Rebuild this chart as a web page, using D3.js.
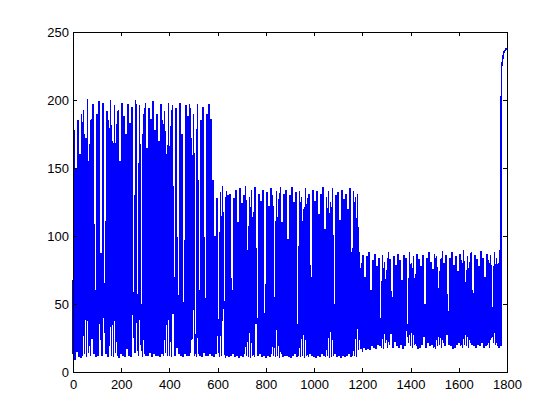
<!DOCTYPE html>
<html>
<meta charset="utf-8">
<head>
<title>Signal trace</title>
<style>
body { margin: 0; background: #fff; }
.axis text { font-family: "Liberation Sans", Arial, sans-serif; font-size: 13px; fill: #000; }
.axis path, .axis line { stroke: #000; shape-rendering: crispEdges; }
.trace { fill: none; stroke: #0000ff; stroke-width: 1.6px; stroke-linejoin: miter; stroke-miterlimit: 1; shape-rendering: crispEdges; }
</style>
</head>
<body>
<script src="https://cdn.jsdelivr.net/npm/d3@7/dist/d3.min.js"></script>
<script>

// sample spacing along x (each low is followed by a high half a step later)
var sampleStep = 8;

// peaks of the trace (three plateaus)
var highs = [
  178, 150, 185, 160, 190, 193, 172, 201, 168, 186,
  197, 60, 190, 199, 30, 198, 45, 192, 185, 200,
  170, 196, 182, 193, 155, 198, 188, 175, 197, 183,
  195, 40, 200, 25, 196, 50, 190, 198, 165, 194,
  186, 199, 178, 190, 170, 197, 185, 192, 160, 198,
  181, 196, 70, 194, 35, 198, 175, 45, 196, 188,
  197, 172, 190, 28, 197, 60, 185, 195, 40, 190,
  197, 186,
  141, 100, 128, 20, 132, 137, 45, 133, 130, 131,
  60, 128, 134, 110, 135, 124, 130, 137, 90, 129,
  134, 118, 136, 40, 131, 126, 134, 30, 132, 122,
  135, 130, 55, 133, 127, 136, 110, 131, 134, 98,
  130, 136, 125, 132, 35, 133, 129, 120, 135, 128,
  131, 70, 134, 126, 133, 116, 131, 136, 105, 129,
  133, 125, 135, 50, 130, 132, 112, 134, 127, 131,
  120, 135, 88, 133, 129, 131,
  88, 80, 86, 70, 85, 88, 60, 82, 87, 78,
  84, 40, 86, 81, 75, 88, 83, 55, 85, 79,
  87, 82, 68, 86, 84, 35, 88, 80, 85, 72,
  87, 83, 78, 86, 50, 84, 88, 81, 76, 87,
  85, 62, 83, 89, 80, 86, 45, 84, 88, 79,
  85, 74, 87, 82, 90, 66, 85, 81, 88, 58,
  86, 83, 78, 89, 84, 70, 87, 82, 86, 48,
  88, 84, 80, 90
];

// troughs of the trace
var lows = [
  13, 9, 15, 11, 10, 12, 13, 11, 14, 12,
  24, 13, 11, 12, 38, 12, 40, 13, 11, 19,
  12, 11, 14, 12, 10, 13, 12, 11, 17, 12,
  11, 45, 14, 60, 12, 20, 11, 13, 12, 12,
  14, 11, 13, 12, 12, 11, 13, 12, 14, 12,
  12, 11, 43, 12, 18, 13, 12, 11, 13, 12,
  12, 14, 24, 12, 11, 13, 12, 11, 14, 12,
  12, 13,
  12, 11, 13, 40, 11, 12, 55, 10, 12, 11,
  12, 13, 11, 12, 10, 12, 11, 13, 12, 11,
  10, 12, 11, 35, 12, 13, 11, 12, 10, 12,
  11, 13, 12, 11, 12, 10, 13, 11, 12, 12,
  11, 10, 12, 13, 11, 12, 11, 12, 10, 12,
  11, 13, 12, 11, 10, 12, 11, 13, 12, 11,
  12, 10, 11, 12, 13, 11, 12, 10, 12, 11,
  12, 13, 11, 12, 12, 11,
  16, 17, 15, 18, 16, 17, 16, 19, 18, 17,
  20, 19, 18, 17, 21, 18, 20, 28, 18, 22,
  19, 18, 20, 17, 19, 30, 21, 19, 18, 20,
  19, 17, 18, 20, 26, 18, 21, 19, 20, 18,
  17, 19, 20, 18, 21, 19, 27, 20, 19, 17,
  18, 20, 21, 19, 18, 20, 19, 18, 21, 20,
  19, 18, 20, 19, 21, 18, 19, 20, 18, 25,
  21, 20, 19, 18
];

// the final climb at the right edge
var tailX = [1774, 1776, 1777, 1784, 1787, 1790, 1798];
var tailY = [19, 185, 224, 232, 235, 236, 238];

var xTicks = [0, 200, 400, 600, 800, 1000, 1200, 1400, 1600, 1800];
var yTicks = [0, 50, 100, 150, 200, 250];

var width = 560, height = 420;
var plot = {left: 73, right: 507, top: 32, bottom: 372};

var svg = d3.select("body").append("svg")
    .attr("width", width)
    .attr("height", height);

var x = d3.scaleLinear().domain([0, 1800]).range([plot.left, plot.right]);
var y = d3.scaleLinear().domain([0, 250]).range([plot.bottom, plot.top]);

// build the point list: low, high, low, high ...
var points = [];
lows.forEach(function(v, i) {
  points.push([i * sampleStep, v]);
  points.push([i * sampleStep + sampleStep / 2, highs[i]]);
});
tailX.forEach(function(v, i) {
  points.push([v, tailY[i]]);
});

var line = d3.line()
    .x(d => x(d[0]))
    .y(d => y(d[1]));

svg.append("path")
    .attr("class", "trace")
    .attr("d", line(points));

var fmt = d3.format("d");

// axes, matlab style: ticks pointing in, on all four sides
svg.append("g")
    .attr("class", "axis")
    .attr("transform", "translate(0," + plot.bottom + ")")
    .call(d3.axisBottom(x).tickValues(xTicks).tickFormat(fmt).tickSizeInner(-4).tickSizeOuter(0).tickPadding(8));

svg.append("g")
    .attr("class", "axis")
    .attr("transform", "translate(" + plot.left + ",0)")
    .call(d3.axisLeft(y).tickValues(yTicks).tickFormat(fmt).tickSizeInner(-4).tickSizeOuter(0).tickPadding(4));

svg.append("g")
    .attr("class", "axis")
    .attr("transform", "translate(0," + plot.top + ")")
    .call(d3.axisTop(x).tickValues(xTicks).tickSizeInner(-4).tickSizeOuter(0).tickFormat(""));

svg.append("g")
    .attr("class", "axis")
    .attr("transform", "translate(" + plot.right + ",0)")
    .call(d3.axisRight(y).tickValues(yTicks).tickSizeInner(-4).tickSizeOuter(0).tickFormat(""));

</script>
</body>
</html>
